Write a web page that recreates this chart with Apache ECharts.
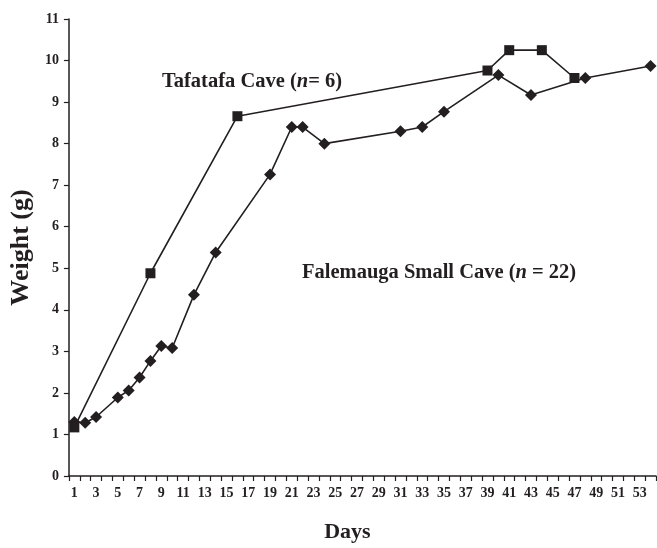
<!DOCTYPE html>
<html>
<head>
<meta charset="utf-8">
<script src="https://cdn.jsdelivr.net/npm/echarts@6/dist/echarts.min.js"></script>
<style>html,body{margin:0;padding:0;background:#fff;}#c{width:657px;height:548px;}</style>
</head>
<body>
<div id="c"></div>
<script>
const days = [];
for (let d = 1; d <= 54; d++) days.push(String(d));
const yTicks = [0,1,2,3,4,5,6,7,8,9,10,11];

const tafaDays = [1, 8, 16, 39, 41, 44, 47];
const tafaWeights = [1.17, 4.88, 8.66, 9.76, 10.25, 10.25, 9.58];

const faleDays = [1, 2, 3, 5, 6, 7, 8, 9, 10, 12, 14, 19, 21, 22, 24, 31, 33, 35, 40, 43, 48, 54];
const faleWeights = [1.3, 1.28, 1.42, 1.89, 2.06, 2.37, 2.77, 3.13, 3.08, 4.36, 5.38, 7.26, 8.4, 8.4, 8.0, 8.3, 8.4, 8.77, 9.65, 9.17, 9.58, 9.87];

const FONT = "'Liberation Serif','Times New Roman',serif";
const INK = '#231f20';

const chart = echarts.init(document.getElementById('c'), null, {renderer: 'canvas'});
chart.setOption({
  animation: false,
  backgroundColor: '#fff',
  grid: {left: 68, right: 1, top: 19, bottom: 67, containLabel: false},
  xAxis: {
    type: 'category',
    data: days,
    boundaryGap: true,
    name: 'Days',
    nameLocation: 'middle',
    nameGap: 45,
    nameTextStyle: {fontFamily: FONT, fontWeight: 'bold', fontSize: 22, color: INK, padding: [0, 30, 0, 0]},
    axisLine: {lineStyle: {color: INK, width: 1.5}},
    axisTick: {show: true, interval: 0, length: 5, inside: false, lineStyle: {color: INK, width: 1.2}},
    axisLabel: {interval: 1, margin: 10, fontFamily: FONT, fontWeight: 'bold', fontSize: 14, color: INK},
    splitLine: {show: false}
  },
  yAxis: {
    type: 'value',
    min: yTicks[0],
    max: yTicks[yTicks.length - 1],
    interval: 1,
    name: 'Weight (g)',
    nameLocation: 'middle',
    nameGap: 27,
    nameRotate: 90,
    nameTextStyle: {fontFamily: FONT, fontWeight: 'bold', fontSize: 26, color: INK},
    axisLine: {show: true, lineStyle: {color: INK, width: 1.5}},
    axisTick: {show: true, length: 5, lineStyle: {color: INK, width: 1.2}},
    axisLabel: {margin: 10, fontFamily: FONT, fontWeight: 'bold', fontSize: 14, color: INK},
    splitLine: {show: false}
  },
  series: [
    {
      name: 'Tafatafa Cave',
      type: 'line',
      data: tafaDays.map((d, i) => [String(d), tafaWeights[i]]),
      symbol: 'rect',
      symbolSize: 10,
      showAllSymbol: true,
      lineStyle: {color: INK, width: 1.6},
      itemStyle: {color: INK},
      z: 3
    },
    {
      name: 'Falemauga Small Cave',
      type: 'line',
      data: faleDays.map((d, i) => [String(d), faleWeights[i]]),
      symbol: 'diamond',
      symbolSize: 12,
      showAllSymbol: true,
      lineStyle: {color: INK, width: 1.6},
      itemStyle: {color: INK},
      z: 2
    }
  ],
  graphic: [
    {
      type: 'text', left: 162, top: 71,
      style: {
        text: '{b|Tafatafa Cave (}{i|n}{b|= 6)}',
        rich: {
          b: {fontFamily: FONT, fontWeight: 'bold', fontSize: 20.5, fill: INK},
          i: {fontFamily: FONT, fontWeight: 'bold', fontStyle: 'italic', fontSize: 20.5, fill: INK}
        }
      }
    },
    {
      type: 'text', left: 302, top: 262,
      style: {
        text: '{b|Falemauga Small Cave (}{i|n}{b| = 22)}',
        rich: {
          b: {fontFamily: FONT, fontWeight: 'bold', fontSize: 20.5, fill: INK},
          i: {fontFamily: FONT, fontWeight: 'bold', fontStyle: 'italic', fontSize: 20.5, fill: INK}
        }
      }
    }
  ]
});
</script>
</body>
</html>
